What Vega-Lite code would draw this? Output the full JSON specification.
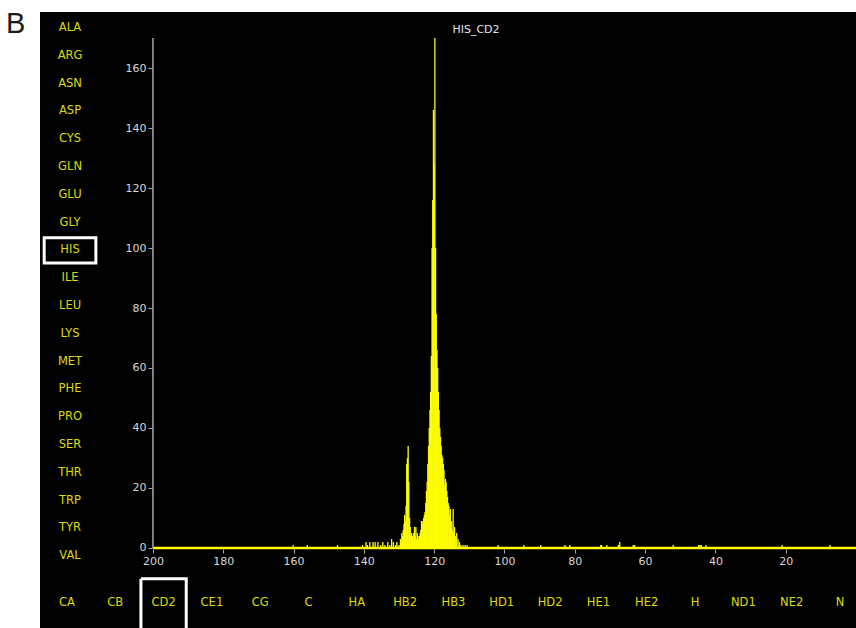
{
  "$schema": "https://vega.github.io/schema/vega-lite/v6.json",
  "width": 816,
  "height": 616,
  "autosize": {"type": "none"},
  "padding": {"left": 40, "top": 12, "right": 0, "bottom": 0},
  "background": "white",
  "config": {"view": {"fill": "black", "stroke": null}, "font": "DejaVu Sans"},
  "title": {"text": "B", "anchor": "start", "frame": "group", "orient": "top", "offset": 0, "baseline": "alphabetic", "dx": -34, "dy": 50, "fontSize": 29, "font": "Liberation Sans", "fontWeight": "normal", "color": "#1a1a1a"},
  "datasets": {
    "histogram": [
      {"ppm": 7.4, "count": 1}, {"ppm": 21.0, "count": 1}, {"ppm": 42.7, "count": 1}, {"ppm": 44.0, "count": 1},
      {"ppm": 44.4, "count": 1}, {"ppm": 44.8, "count": 1}, {"ppm": 52.0, "count": 1}, {"ppm": 63.0, "count": 1},
      {"ppm": 63.4, "count": 1}, {"ppm": 67.2, "count": 2}, {"ppm": 67.6, "count": 1}, {"ppm": 70.9, "count": 1},
      {"ppm": 72.4, "count": 1}, {"ppm": 72.6, "count": 1}, {"ppm": 81.4, "count": 1}, {"ppm": 82.8, "count": 1},
      {"ppm": 89.7, "count": 1}, {"ppm": 94.5, "count": 1}, {"ppm": 101.8, "count": 1}, {"ppm": 110.6, "count": 1},
      {"ppm": 111.2, "count": 1}, {"ppm": 111.8, "count": 1}, {"ppm": 112.4, "count": 1}, {"ppm": 112.8, "count": 2},
      {"ppm": 113.2, "count": 3}, {"ppm": 113.6, "count": 5}, {"ppm": 114.0, "count": 4}, {"ppm": 114.2, "count": 7},
      {"ppm": 114.4, "count": 5}, {"ppm": 114.6, "count": 13}, {"ppm": 114.8, "count": 6}, {"ppm": 115.0, "count": 9},
      {"ppm": 115.2, "count": 8}, {"ppm": 115.4, "count": 13}, {"ppm": 115.6, "count": 11}, {"ppm": 115.8, "count": 14},
      {"ppm": 116.0, "count": 15}, {"ppm": 116.2, "count": 17}, {"ppm": 116.4, "count": 19}, {"ppm": 116.6, "count": 22},
      {"ppm": 116.8, "count": 23}, {"ppm": 117.0, "count": 21}, {"ppm": 117.2, "count": 26}, {"ppm": 117.4, "count": 28},
      {"ppm": 117.6, "count": 30}, {"ppm": 117.8, "count": 31}, {"ppm": 118.0, "count": 34}, {"ppm": 118.2, "count": 37},
      {"ppm": 118.4, "count": 40}, {"ppm": 118.6, "count": 46}, {"ppm": 118.8, "count": 52}, {"ppm": 119.0, "count": 60},
      {"ppm": 119.2, "count": 66}, {"ppm": 119.4, "count": 78}, {"ppm": 119.6, "count": 100}, {"ppm": 119.8, "count": 170},
      {"ppm": 120.0, "count": 128}, {"ppm": 120.2, "count": 146}, {"ppm": 120.4, "count": 116}, {"ppm": 120.6, "count": 100},
      {"ppm": 120.8, "count": 64}, {"ppm": 121.0, "count": 52}, {"ppm": 121.2, "count": 46}, {"ppm": 121.4, "count": 40},
      {"ppm": 121.6, "count": 34}, {"ppm": 121.8, "count": 28}, {"ppm": 122.0, "count": 22}, {"ppm": 122.2, "count": 19},
      {"ppm": 122.4, "count": 15}, {"ppm": 122.6, "count": 12}, {"ppm": 122.8, "count": 11}, {"ppm": 123.0, "count": 10},
      {"ppm": 123.2, "count": 9}, {"ppm": 123.4, "count": 8}, {"ppm": 123.6, "count": 9}, {"ppm": 123.8, "count": 6},
      {"ppm": 124.0, "count": 5}, {"ppm": 124.2, "count": 4}, {"ppm": 124.4, "count": 3}, {"ppm": 124.6, "count": 4},
      {"ppm": 124.8, "count": 5}, {"ppm": 125.0, "count": 3}, {"ppm": 125.2, "count": 7}, {"ppm": 125.4, "count": 4},
      {"ppm": 125.6, "count": 7}, {"ppm": 125.8, "count": 5}, {"ppm": 126.0, "count": 3}, {"ppm": 126.2, "count": 4},
      {"ppm": 126.4, "count": 5}, {"ppm": 126.6, "count": 4}, {"ppm": 126.8, "count": 7}, {"ppm": 127.0, "count": 10},
      {"ppm": 127.2, "count": 22}, {"ppm": 127.4, "count": 34}, {"ppm": 127.6, "count": 30}, {"ppm": 127.8, "count": 28},
      {"ppm": 128.0, "count": 14}, {"ppm": 128.2, "count": 9}, {"ppm": 128.4, "count": 11}, {"ppm": 128.6, "count": 8},
      {"ppm": 128.8, "count": 6}, {"ppm": 129.0, "count": 4}, {"ppm": 129.2, "count": 5}, {"ppm": 129.4, "count": 2},
      {"ppm": 129.6, "count": 3}, {"ppm": 130.0, "count": 1}, {"ppm": 130.6, "count": 2}, {"ppm": 131.0, "count": 1},
      {"ppm": 131.6, "count": 2}, {"ppm": 132.1, "count": 3}, {"ppm": 132.6, "count": 1}, {"ppm": 133.2, "count": 2},
      {"ppm": 134.0, "count": 1}, {"ppm": 134.6, "count": 2}, {"ppm": 135.2, "count": 1}, {"ppm": 136.0, "count": 2},
      {"ppm": 136.8, "count": 2}, {"ppm": 137.4, "count": 2}, {"ppm": 138.3, "count": 2}, {"ppm": 139.0, "count": 1},
      {"ppm": 139.4, "count": 2}, {"ppm": 140.4, "count": 1}, {"ppm": 147.5, "count": 1}, {"ppm": 156.1, "count": 1},
      {"ppm": 160.1, "count": 1}
    ],
    "residues": [
      {"residue": "ALA", "selected": false}, {"residue": "ARG", "selected": false}, {"residue": "ASN", "selected": false},
      {"residue": "ASP", "selected": false}, {"residue": "CYS", "selected": false}, {"residue": "GLN", "selected": false},
      {"residue": "GLU", "selected": false}, {"residue": "GLY", "selected": false}, {"residue": "HIS", "selected": true},
      {"residue": "ILE", "selected": false}, {"residue": "LEU", "selected": false}, {"residue": "LYS", "selected": false},
      {"residue": "MET", "selected": false}, {"residue": "PHE", "selected": false}, {"residue": "PRO", "selected": false},
      {"residue": "SER", "selected": false}, {"residue": "THR", "selected": false}, {"residue": "TRP", "selected": false},
      {"residue": "TYR", "selected": false}, {"residue": "VAL", "selected": false}
    ],
    "atoms": [
      {"atom": "CA", "selected": false}, {"atom": "CB", "selected": false}, {"atom": "CD2", "selected": true},
      {"atom": "CE1", "selected": false}, {"atom": "CG", "selected": false}, {"atom": "C", "selected": false},
      {"atom": "HA", "selected": false}, {"atom": "HB2", "selected": false}, {"atom": "HB3", "selected": false},
      {"atom": "HD1", "selected": false}, {"atom": "HD2", "selected": false}, {"atom": "HE1", "selected": false},
      {"atom": "HE2", "selected": false}, {"atom": "H", "selected": false}, {"atom": "ND1", "selected": false},
      {"atom": "NE2", "selected": false}, {"atom": "N", "selected": false}
    ],
    "panel": [{"name": "HIS_CD2"}]
  },
  "resolve": {"scale": {"x": "independent", "y": "independent"}, "axis": {"x": "independent", "y": "independent"}},
  "layer": [
    {
      "layer": [
        {
          "data": {"name": "histogram"},
          "mark": {"type": "bar", "color": "#ffff00", "width": 1.3},
          "encoding": {
            "x": {"field": "ppm", "type": "quantitative",
              "scale": {"domain": [232.13, 0], "nice": false, "zero": false, "padding": 0},
              "axis": {"values": [200, 180, 160, 140, 120, 100, 80, 60, 40, 20], "domain": false, "offset": -79, "grid": false, "title": null,
                "tickColor": "#a8a8a8", "tickSize": 4, "tickWidth": 1, "labelColor": "#d8d8d8", "labelFontSize": 11, "labelPadding": 2,
                "labelFont": "DejaVu Sans", "labelFlush": false, "labelOverlap": false}},
            "y": {"field": "count", "type": "quantitative",
              "scale": {"domain": [-26.67, 178.67], "nice": false, "zero": false, "padding": 0},
              "axis": {"values": [0, 20, 40, 60, 80, 100, 120, 140, 160], "domain": false, "offset": -112, "grid": false, "title": null,
                "tickColor": "#a8a8a8", "tickSize": 4, "tickWidth": 1, "labelColor": "#d8d8d8", "labelFontSize": 11, "labelPadding": 2,
                "labelFont": "DejaVu Sans", "labelOverlap": false}},
            "y2": {"datum": 0}
          }
        },
        {
          "data": {"values": [{}]},
          "mark": {"type": "rule", "color": "#ffff00", "strokeWidth": 2.5},
          "encoding": {"x": {"datum": 200, "type": "quantitative"}, "x2": {"datum": 0}, "y": {"datum": 0, "type": "quantitative"}}
        },
        {
          "data": {"values": [{}]},
          "mark": {"type": "rule", "color": "#a8a8a8", "strokeWidth": 1.5},
          "encoding": {"x": {"datum": 200, "type": "quantitative"}, "y": {"datum": 0, "type": "quantitative"}, "y2": {"datum": 170}}
        },
        {
          "data": {"name": "panel"},
          "mark": {"type": "text", "color": "#e6e6e6", "fontSize": 11, "baseline": "middle", "font": "DejaVu Sans"},
          "encoding": {"text": {"field": "name"}, "x": {"datum": 108.1, "type": "quantitative"}, "y": {"datum": 172.7, "type": "quantitative"}}
        }
      ]
    },
    {
      "data": {"name": "residues"},
      "layer": [
        {
          "mark": {"type": "text", "color": "#dcdc00", "fontSize": 11.5, "baseline": "middle", "font": "DejaVu Sans"},
          "encoding": {
            "text": {"field": "residue"},
            "x": {"datum": "residue", "type": "nominal", "scale": {"type": "point", "domain": ["residue"], "align": 0.0368}, "axis": null},
            "y": {"field": "residue", "type": "nominal",
              "scale": {"type": "band", "domain": ["ALA", "ARG", "ASN", "ASP", "CYS", "GLN", "GLU", "GLY", "HIS", "ILE", "LEU", "LYS", "MET", "PHE", "PRO", "SER", "THR", "TRP", "TYR", "VAL", " "],
                "paddingInner": 0.09, "paddingOuter": 0.624, "align": 0.0966}, "axis": null}
          }
        },
        {
          "transform": [{"filter": "datum.selected"}],
          "mark": {"type": "rect", "fill": "transparent", "stroke": "white", "strokeWidth": 3, "width": 51.7},
          "encoding": {
            "x": {"datum": "residue", "type": "nominal"},
            "y": {"field": "residue", "type": "nominal"}
          }
        }
      ]
    },
    {
      "data": {"name": "atoms"},
      "layer": [
        {
          "mark": {"type": "text", "color": "#dcdc00", "fontSize": 11.5, "baseline": "middle", "font": "DejaVu Sans"},
          "encoding": {
            "text": {"field": "atom"},
            "x": {"field": "atom", "type": "nominal", "sort": null, "scale": {"type": "point", "padding": 0.445, "align": 0.627}, "axis": null},
            "y": {"datum": "atom", "type": "nominal", "scale": {"type": "point", "domain": ["atom"], "align": 0.96}, "axis": null}
          }
        },
        {
          "transform": [{"filter": "datum.selected"}],
          "mark": {"type": "rect", "fill": "transparent", "stroke": "white", "strokeWidth": 3, "width": 45.3, "height": 49.2, "strokeDash": [94.5, 45.3, 49.2, 1]},
          "encoding": {
            "x": {"field": "atom", "type": "nominal", "sort": null},
            "y": {"datum": "atom", "type": "nominal"}
          }
        }
      ]
    }
  ]
}
